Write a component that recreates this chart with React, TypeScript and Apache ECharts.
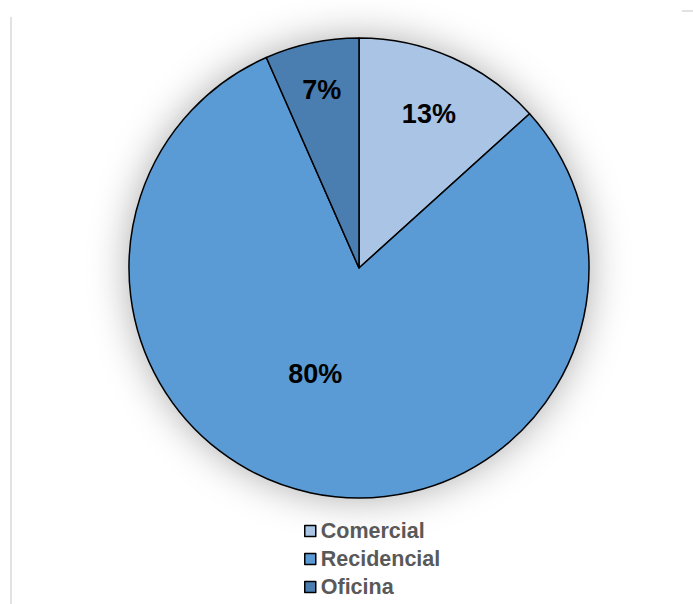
import React, { useEffect, useRef } from "react";
import * as echarts from "echarts";

const categories = ["Comercial", "Recidencial", "Oficina"];
const values = [13.3, 80.1, 6.6];
const colors = ["#a9c4e4", "#5b9bd5", "#4a7eb1"];
const labelOffsets: [number, number][] = [[22, -46], [-19, -9], [-13, -63]];

export default function App() {
  const ref = useRef<HTMLDivElement>(null);
  useEffect(() => {
    const chart = echarts.init(ref.current!, null, { renderer: "svg" });
    const font = "'Liberation Sans', Arial, sans-serif";
    chart.setOption({
      animation: false,
      backgroundColor: "#ffffff",
      legend: {
        orient: "vertical",
        left: 304,
        top: 520,
        padding: 0,
        height: 84,
        itemWidth: 11,
        itemHeight: 11,
        itemGap: 6,
        icon: "rect",
        itemStyle: { borderColor: "#000000", borderWidth: 1.5 },
        textStyle: { color: "#595959", fontSize: 21.5, fontWeight: "bold", fontFamily: font, lineHeight: 21 },
        data: categories,
      },
      graphic: [
        { type: "line", shape: { x1: 11, y1: 17, x2: 11, y2: 604 }, style: { stroke: "#d9d9d9", lineWidth: 1.5 } },
        { type: "line", shape: { x1: 682, y1: 11, x2: 693, y2: 11 }, style: { stroke: "#d9d9d9", lineWidth: 1.5 } },
      ],
      series: [
        {
          type: "pie",
          silent: true,
          center: [359, 268],
          radius: 229,
          z: 1,
          label: { show: false },
          labelLine: { show: false },
          itemStyle: { color: "#ffffff", shadowBlur: 40, shadowColor: "rgba(0,0,0,0.35)" },
          emphasis: { disabled: true },
          tooltip: { show: false },
          data: [{ value: 1, name: "shadow" }],
        },
        {
          type: "pie",
          center: [359, 268],
          radius: 230,
          startAngle: 90,
          clockwise: true,
          percentPrecision: 0,
          z: 2,
          itemStyle: { borderColor: "#000000", borderWidth: 1.5 },
          label: {
            show: true,
            position: "inside",
            formatter: "{d}%",
            color: "#000000",
            fontSize: 27,
            fontWeight: "bold",
            fontFamily: font,
          },
          labelLine: { show: false },
          emphasis: { disabled: true },
          data: categories.map((name, i) => ({
            name,
            value: values[i],
            itemStyle: { color: colors[i] },
            label: { offset: labelOffsets[i] },
          })),
        },
      ],
    });
    return () => chart.dispose();
  }, []);
  return <div ref={ref} style={{ position: "fixed", left: 0, top: 0, width: 693, height: 604 }} />;
}
